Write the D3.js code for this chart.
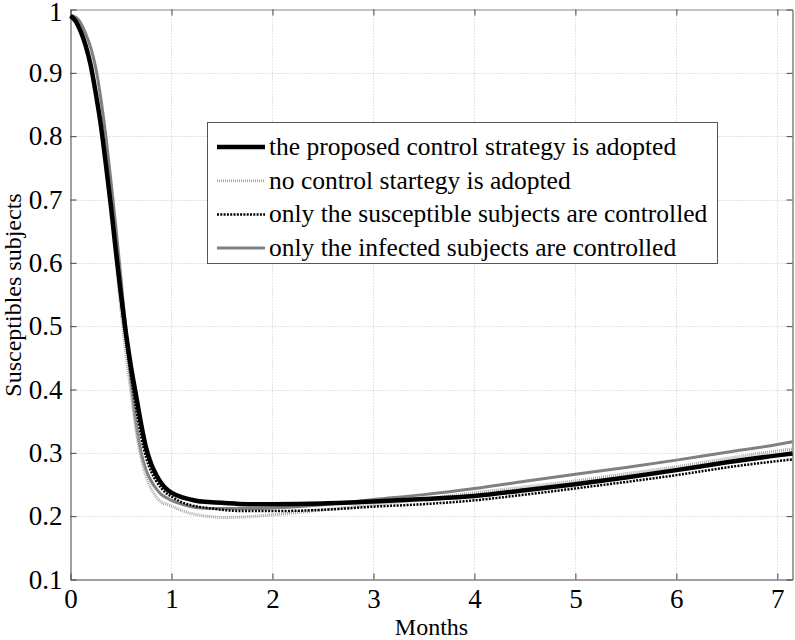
<!DOCTYPE html>
<html>
<head>
<meta charset="utf-8">
<style>
  body { margin: 0; background: #fff; }
  svg text { font-family: "Liberation Serif", "Times New Roman", serif; fill: #000; }
</style>
</head>
<body>
<script src="https://cdn.jsdelivr.net/npm/d3@7"></script>
<svg id="chart" width="795" height="640"></svg>
<script>
// months sampled
var months = [0, 0.05, 0.1, 0.15, 0.2, 0.25, 0.3, 0.35, 0.4, 0.45, 0.5, 0.55, 0.6, 0.65, 0.7, 0.75,
  0.8, 0.85, 0.9, 0.95, 1.0, 1.1, 1.2, 1.3, 1.4, 1.5, 1.75, 2.0, 2.5, 3.0, 3.5, 4.0, 4.5, 5.0,
  5.5, 6.0, 6.5, 7.0, 7.15];

var proposed = [0.99, 0.982, 0.966, 0.943, 0.912, 0.868, 0.818, 0.756, 0.69, 0.618, 0.55, 0.488,
  0.435, 0.39, 0.345, 0.307, 0.282, 0.265, 0.252, 0.243, 0.237, 0.23, 0.226, 0.223, 0.222, 0.221,
  0.219, 0.219, 0.22, 0.223, 0.227, 0.232, 0.241, 0.2505, 0.261, 0.2727, 0.285, 0.296, 0.299];

var noControl = [0.99, 0.982, 0.965, 0.942, 0.91, 0.865, 0.812, 0.75, 0.68, 0.603, 0.525, 0.455,
  0.395, 0.335, 0.292, 0.262, 0.243, 0.23, 0.222, 0.219, 0.216, 0.209, 0.204, 0.201, 0.199, 0.198,
  0.199, 0.202, 0.21, 0.218, 0.227, 0.237, 0.246, 0.2558, 0.267, 0.278, 0.291, 0.303, 0.306];

var onlySusceptible = [0.99, 0.982, 0.966, 0.943, 0.911, 0.866, 0.815, 0.754, 0.687, 0.613, 0.54,
  0.475, 0.42, 0.37, 0.325, 0.292, 0.27, 0.255, 0.244, 0.236, 0.231, 0.222, 0.217, 0.214, 0.212,
  0.21, 0.208, 0.208, 0.21, 0.215, 0.219, 0.225, 0.234, 0.2438, 0.254, 0.2648, 0.277, 0.287, 0.2896];

var onlyInfected = [0.99, 0.988, 0.979, 0.962, 0.94, 0.908, 0.86, 0.8, 0.73, 0.655, 0.575, 0.49,
  0.41, 0.345, 0.3, 0.272, 0.255, 0.243, 0.234, 0.229, 0.225, 0.219, 0.215, 0.213, 0.212, 0.212,
  0.212, 0.213, 0.218, 0.2264, 0.234, 0.2437, 0.255, 0.2663, 0.277, 0.2885, 0.301, 0.313, 0.3174];

var xTicks = [0, 1, 2, 3, 4, 5, 6, 7];
var yTicks = [0.1, 0.2, 0.3, 0.4, 0.5, 0.6, 0.7, 0.8, 0.9, 1];

var seriesNames = ["the proposed control strategy is adopted",
  "no control startegy is adopted",
  "only the susceptible subjects are controlled",
  "only the infected subjects are controlled"];

var svg = d3.select("#chart");
var mLeft = 70.5, mTop = 9.5, w = 722, h = 570;

var x = d3.scaleLinear().domain([0, 7.15]).range([mLeft, mLeft + w]);
var y = d3.scaleLinear().domain([0.1, 1]).range([mTop + h, mTop]);

// grid
var grid = svg.append("g").attr("stroke", "#c8c8c8").attr("stroke-dasharray", "1,2").attr("stroke-width", 1);
grid.selectAll(".gx").data(xTicks.slice(1)).enter().append("line")
  .attr("x1", function(d) { return Math.round(x(d)) + 0.5; })
  .attr("x2", function(d) { return Math.round(x(d)) + 0.5; })
  .attr("y1", mTop).attr("y2", mTop + h);
grid.selectAll(".gy").data(yTicks.slice(1, -1)).enter().append("line")
  .attr("y1", function(d) { return Math.round(y(d)) + 0.5; })
  .attr("y2", function(d) { return Math.round(y(d)) + 0.5; })
  .attr("x1", mLeft).attr("x2", mLeft + w);

// axes (ticks inward, on all sides)
var axB = svg.append("g").attr("transform", "translate(0," + (mTop + h) + ")")
  .call(d3.axisBottom(x).tickValues(xTicks).tickSizeInner(-6).tickSizeOuter(0).tickPadding(9).tickFormat(d3.format("d")));
var axT = svg.append("g").attr("transform", "translate(0," + mTop + ")")
  .call(d3.axisTop(x).tickValues(xTicks).tickSizeInner(-6).tickSizeOuter(0).tickFormat(""));
var axL = svg.append("g").attr("transform", "translate(" + mLeft + ",0)")
  .call(d3.axisLeft(y).tickValues(yTicks).tickSizeInner(-6).tickSizeOuter(0).tickPadding(8)
    .tickFormat(function(d) { return d === 1 ? "1" : d3.format(".1f")(d); }));
var axR = svg.append("g").attr("transform", "translate(" + (mLeft + w) + ",0)")
  .call(d3.axisRight(y).tickValues(yTicks).tickSizeInner(-6).tickSizeOuter(0).tickFormat(""));

[axB, axT, axL, axR].forEach(function(a) {
  a.attr("font-size", 27).attr("font-family", "Liberation Serif");
  a.selectAll("path, line").attr("stroke", "#444");
  a.selectAll("text").attr("font-size", 27).attr("fill", "#000");
});
axT.select("path").attr("stroke", "#888");
axL.selectAll(".tick text").filter(function(d) { return d === 1; }).attr("dy", "0.4em");

// lines
var line = d3.line()
  .x(function(d) { return x(d[0]); })
  .y(function(d) { return y(d[1]); })
  .curve(d3.curveMonotoneX);

function pts(vals) { return months.map(function(m, i) { return [m, vals[i]]; }); }

var styles = [
  { data: onlyInfected, stroke: "#808080", width: 3, dash: null },
  { data: noControl, stroke: "#a8a8a8", width: 3, dash: "1,1" },
  { data: proposed, stroke: "#000", width: 4.5, dash: null },
  { data: onlySusceptible, stroke: "#000", width: 2.5, dash: "2,1.3" }
];

svg.append("g").selectAll("path").data(styles).enter().append("path")
  .attr("d", function(s) { return line(pts(s.data)); })
  .attr("fill", "none")
  .attr("stroke", function(s) { return s.stroke; })
  .attr("stroke-width", function(s) { return s.width; })
  .attr("stroke-dasharray", function(s) { return s.dash; });

// legend
var legStyles = [
  { stroke: "#000", width: 4.5, dash: null },
  { stroke: "#a8a8a8", width: 2.5, dash: "1,1" },
  { stroke: "#000", width: 2.5, dash: "2,1.3" },
  { stroke: "#808080", width: 3, dash: null }
];
var leg = svg.append("g");
leg.append("rect").attr("x", 207.5).attr("y", 122.5).attr("width", 510).attr("height", 141)
  .attr("fill", "#fff").attr("stroke", "#555").attr("stroke-width", 1);
var rows = leg.selectAll(".row").data(seriesNames).enter().append("g")
  .attr("transform", function(d, i) { return "translate(0," + (147 + i * 33.7) + ")"; });
rows.append("line").attr("x1", 217).attr("x2", 265).attr("y1", 0).attr("y2", 0)
  .attr("stroke", function(d, i) { return legStyles[i].stroke; })
  .attr("stroke-width", function(d, i) { return legStyles[i].width; })
  .attr("stroke-dasharray", function(d, i) { return legStyles[i].dash; });
rows.append("text").attr("x", 269).attr("y", 8).attr("font-size", 25.5).text(function(d) { return d; });

// axis titles
svg.append("text").attr("x", mLeft + w / 2).attr("y", 635).attr("text-anchor", "middle")
  .attr("font-size", 24).text("Months");
svg.append("text").attr("transform", "translate(21,295) rotate(-90)")
  .attr("text-anchor", "middle").attr("font-size", 24).text("Susceptibles subjects");
</script>
</body>
</html>
